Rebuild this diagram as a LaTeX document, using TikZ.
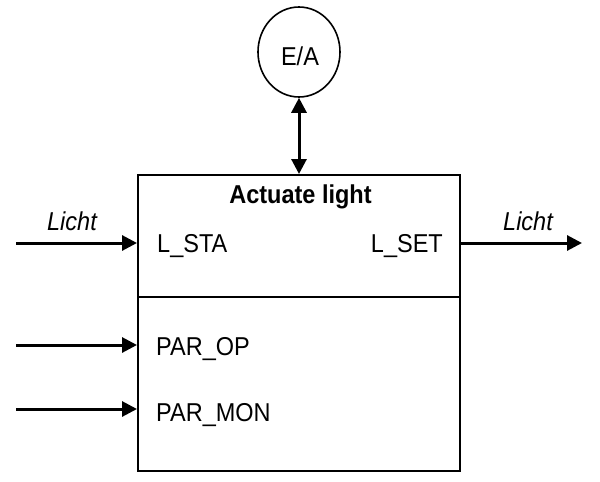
\documentclass[tikz,border=0pt]{standalone}
\usepackage{fontspec}
\setmainfont{Liberation Sans}
\usetikzlibrary{arrows.meta,shapes.geometric}
\newcommand{\tallish}[1]{\scalebox{1}[1.1]{#1}}
\begin{document}
\begin{tikzpicture}[x=1pt,y=-1pt,
  txt/.style={font=\fontsize{23.5}{28}\selectfont, inner sep=0pt},
  arr/.style={line width=3pt, -{Triangle[length=15pt,width=15pt]}},
  darr/.style={line width=3pt, {Triangle[length=15pt,width=15pt]}-{Triangle[length=15pt,width=15pt]}},
  frame/.style={draw, line width=2pt, inner sep=0pt},
  ell/.style={draw, ellipse, line width=1.6pt, inner sep=0pt, minimum width=82pt, minimum height=90pt}]
\useasboundingbox (0,0) rectangle (600,482);
% circle E/A
\node[ell] (ea) at (299,52) {};
\node[txt, anchor=base] (eatxt) at (300,65) {\tallish{E/A}};
% main box
\node[frame, minimum width=322pt, minimum height=296pt] (box) at (299,323) {};
\coordinate (divl) at (138,297);
\coordinate (divr) at (460,297);
\draw[line width=2pt] (box.west |- divl) -- (box.east |- divr);
% bidirectional connector
\draw[darr] (ea.south) -- (box.north);
% texts in box
\node[txt, anchor=base, font=\fontsize{23.5}{28}\selectfont\bfseries] (title) at (300.5,203) {\tallish{Actuate light}};
\node[txt, anchor=base west] (lsta) at (157,252) {\tallish{L\_STA}};
\node[txt, anchor=base east] (lset) at (443,252) {\tallish{L\_SET}};
\node[txt, anchor=base west] (parop) at (156,355) {\tallish{PAR\_OP}};
\node[txt, anchor=base west] (parmon) at (156,421.5) {\tallish{PAR\_MON}};
% connectors
\coordinate (lin) at (16,243);
\coordinate (lout) at (582,243);
\coordinate (pin1) at (16,345);
\coordinate (pin2) at (16,409);
\draw[arr] (lin) -- (box.west |- lin);
\draw[arr] (box.east |- lout) -- (lout);
\draw[arr] (pin1) -- (box.west |- pin1);
\draw[arr] (pin2) -- (box.west |- pin2);
% labels
\node[txt, anchor=base, font=\fontsize{23.5}{28}\selectfont\itshape] (licht1) at (72,230) {\tallish{Licht}};
\node[txt, anchor=base, font=\fontsize{23.5}{28}\selectfont\itshape] (licht2) at (528,230) {\tallish{Licht}};
\end{tikzpicture}
\end{document}
